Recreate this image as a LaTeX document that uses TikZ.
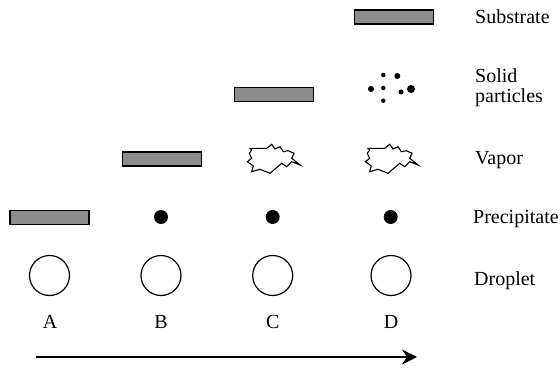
\documentclass[tikz,border=0pt]{standalone}
\usepackage{fontspec}
\setmainfont{Liberation Serif}
\usetikzlibrary{arrows.meta}
\begin{document}
\begin{tikzpicture}[x=1pt,y=-1pt,
  sub/.style={draw=black, line width=1.4pt, fill=black!45, minimum width=79pt, minimum height=14pt, inner sep=0pt},
  drop/.style={circle, draw=black, line width=1.2pt, minimum size=40pt, inner sep=0pt},
  prec/.style={circle, fill=black, minimum size=14pt, inner sep=0pt},
  part/.style={circle, fill=black, inner sep=0pt},
  lbl/.style={font=\fontsize{20pt}{22pt}\selectfont, anchor=base west, inner sep=0pt},
  col/.style={font=\fontsize{20pt}{22pt}\selectfont, anchor=base, inner sep=0pt},
  vapor/.pic={\draw[line width=1.1pt, line join=miter]
    (-23,-10.7) -- (-6.3,-10.7) -- (-1.3,-14.7) -- (2,-10) -- (7,-12.3) -- (10.3,-7.3)
    -- (15.3,-8.3) -- (21,-5.7) -- (18.7,-0.7) -- (27,6) -- (18.7,2.7) -- (13.7,7.7)
    -- (8.7,4.3) -- (-3,14.3) -- (-13,10.3) -- (-21.3,12.7) -- (-19.7,7) -- (-25.7,2.7)
    -- (-21.3,-0.7) -- (-23.7,-5.7) -- (-21.3,-9) -- cycle;}]
\useasboundingbox (0,0) rectangle (560,369);

% droplets
\node[drop] (dA) at (49.5,275.5) {};
\node[drop] (dB) at (161,275.5) {};
\node[drop] (dC) at (272.7,275.5) {};
\node[drop] (dD) at (391,275.5) {};

% column letters
\node[col] (lA) at (50,328.5) {A};
\node[col] (lB) at (161,328.5) {B};
\node[col] (lC) at (272.7,328.5) {C};
\node[col] (lD) at (391,328.5) {D};

% precipitate
\node[sub] (sA) at (49.5,217.5) {};
\node[prec] (pB) at (161,217) {};
\node[prec] (pC) at (272.7,217) {};
\node[prec] (pD) at (390.7,217) {};

% substrates
\node[sub] (sB) at (162,159) {};
\node[sub] (sC) at (274,94.5) {};
\node[sub] (sD) at (394,17) {};

% vapor
\pic (vC) at (273,159) {vapor};
\pic (vD) at (391,159) {vapor};

% solid particles
\node[part, minimum size=4.5pt] (q1) at (383.3,75) {};
\node[part, minimum size=6pt] (q2) at (397.3,76) {};
\node[part, minimum size=6pt] (q3) at (371,89) {};
\node[part, minimum size=4.5pt] (q4) at (383.3,88) {};
\node[part, minimum size=5pt] (q5) at (401,92) {};
\node[part, minimum size=8pt] (q6) at (411,89) {};
\node[part, minimum size=4.5pt] (q7) at (383.3,100.7) {};

% right labels
\node[lbl] (tSub) at (475,23.5) {Substrate};
\node[lbl] (tSol) at (475,82.5) {Solid};
\node[lbl] (tPar) at (475,102.5) {particles};
\node[lbl] (tVap) at (475,164.5) {Vapor};
\node[lbl] (tPre) at (473,223.5) {Precipitate};
\node[lbl] (tDro) at (474,285) {Droplet};

% process arrow
\coordinate (a0) at (36,357);
\coordinate (a1) at (417,357);
\draw[line width=1.8pt, -{Stealth[length=15pt, width=15pt, inset=5pt]}] (a0) -- (a1);
\end{tikzpicture}
\end{document}
